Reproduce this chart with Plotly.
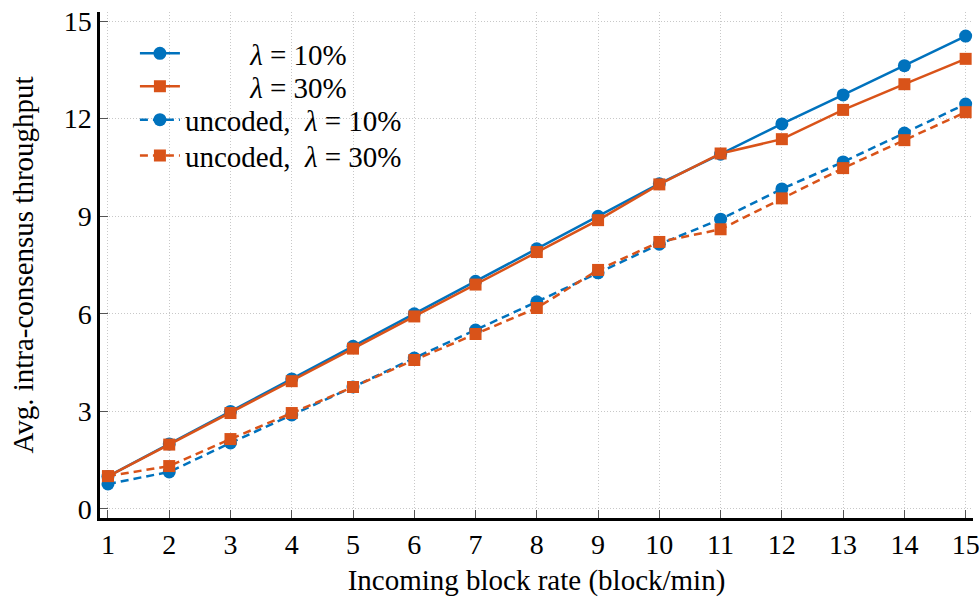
import plotly.graph_objects as go

x_rate = [1, 2, 3, 4, 5, 6, 7, 8, 9, 10, 11, 12, 13, 14, 15]
coded_10 = [1.0, 2.0, 3.0, 4.0, 5.0, 6.0, 7.0, 8.0, 9.0, 10.0, 10.91, 11.84, 12.73, 13.63, 14.54]
coded_30 = [1.0, 1.98, 2.95, 3.93, 4.93, 5.92, 6.9, 7.9, 8.88, 9.98, 10.93, 11.37, 12.27, 13.06, 13.84]
uncoded_10 = [0.77, 1.14, 2.03, 2.89, 3.75, 4.64, 5.5, 6.37, 7.26, 8.14, 8.91, 9.84, 10.67, 11.56, 12.45]
uncoded_30 = [1.01, 1.32, 2.15, 2.95, 3.75, 4.58, 5.38, 6.18, 7.35, 8.21, 8.6, 9.55, 10.48, 11.34, 12.2]

x_ticks = list(range(1, 16))
y_ticks = [0, 3, 6, 9, 12, 15]

BLUE = "#0072BD"
ORANGE = "#D95319"
NB = "\u00a0"
FONT = "Liberation Serif"

series = [
    (coded_10, NB * 9 + "<i>λ</i> = 10%", BLUE, "circle", "solid", 13, "legend"),
    (coded_30, NB * 9 + "<i>λ</i> = 30%", ORANGE, "square", "solid", 12, "legend2"),
    (uncoded_10, "uncoded,  <i>λ</i> = 10%", BLUE, "circle", "8px,5px", 13, "legend3"),
    (uncoded_30, "uncoded,  <i>λ</i> = 30%", ORANGE, "square", "8px,5px", 12, "legend4"),
]
legend_rows = {"legend": 0.918, "legend2": 0.853, "legend3": 0.787, "legend4": 0.716}

fig = go.Figure()
for vals, name, col, sym, dash, ms, leg in series:
    fig.add_trace(go.Scatter(
        x=x_rate, y=vals, name=name, mode="lines+markers",
        line=dict(color=col, width=2.5, dash=dash),
        marker=dict(symbol=sym, size=ms, color=col),
        legend=leg,
    ))

legend_style = dict(x=0.040, xanchor="left", yanchor="middle",
                    bgcolor="rgba(255,255,255,0)", borderwidth=0,
                    font=dict(family=FONT, size=29, color="black"),
                    itemwidth=40)

fig.update_layout(
    width=979, height=597,
    margin=dict(l=100, r=6, t=12, b=79),
    paper_bgcolor="white", plot_bgcolor="white",
    font=dict(family=FONT, size=29, color="black"),
    showlegend=True,
    xaxis=dict(range=[0.87, 15.12], tickvals=x_ticks, ticktext=[str(v) for v in x_ticks],
               tickfont=dict(family=FONT, size=28), ticklabeloverflow="allow",
               automargin=False,
               showgrid=True, gridcolor="#c8c8c8", griddash="1px,2px", gridwidth=1,
               showline=True, linecolor="black", linewidth=2.5,
               ticks="inside", ticklen=8, tickcolor="#555555", tickwidth=1,
               zeroline=False,
               title=dict(text="Incoming block rate (block/min)", standoff=14,
                          font=dict(family=FONT, size=29))),
    yaxis=dict(range=[-0.277, 15.28], tickvals=y_ticks, ticktext=[str(v) for v in y_ticks],
               tickfont=dict(family=FONT, size=28), automargin=False,
               showgrid=True, gridcolor="#c8c8c8", griddash="1px,2px", gridwidth=1,
               showline=True, linecolor="black", linewidth=2.5,
               ticks="inside", ticklen=8, tickcolor="#555555", tickwidth=1,
               zeroline=False,
               title=dict(text="Avg. intra-consensus throughput", standoff=22,
                          font=dict(family=FONT, size=29))),
)
for leg, ypos in legend_rows.items():
    fig.update_layout({leg: dict(legend_style, y=ypos)})

fig.write_html("out.html")
